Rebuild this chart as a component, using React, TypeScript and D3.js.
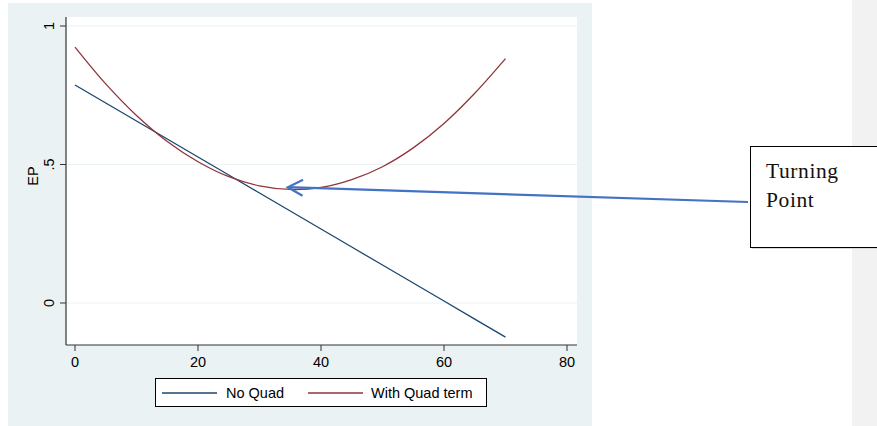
import React from "react";
import * as d3 from "d3";

const xValues = [0, 5, 10, 15, 20, 25, 30, 35, 40, 45, 50, 55, 60, 65, 70];
const noQuad = [0.787, 0.722, 0.657, 0.592, 0.527, 0.462, 0.397, 0.332, 0.267, 0.202, 0.137, 0.072, 0.007, -0.058, -0.123];
const withQuad = [0.924, 0.791, 0.677, 0.583, 0.51, 0.456, 0.423, 0.41, 0.417, 0.445, 0.492, 0.56, 0.648, 0.757, 0.882];
const xTicks = [0, 20, 40, 60, 80];
const yTicks = [0, 0.5, 1];
const yTickLabels = ["0", ".5", "1"];
const seriesNames = ["No Quad", "With Quad term"];
const turning = { x: 34.6, y: 0.418 };
const annotationLines = ["Turning", "Point"];

const NAVY = "#1A476F";
const MAROON = "#90353B";
const BG = "#EAF2F3";
const ARROW = "#4472C4";

export default function App() {
  const W = 877, H = 426;
  const plot = { left: 66, right: 577, top: 17, bottom: 345 };
  const x = d3.scaleLinear().domain([0, 80]).range([75, 567]);
  const y = d3.scaleLinear().domain([0, 1]).range([303, 26]);

  const line = d3.line<number>().x((_, i) => x(xValues[i])).y((d) => y(d));
  const curve = d3
    .line<number>()
    .x((_, i) => x(xValues[i]))
    .y((d) => y(d))
    .curve(d3.curveCatmullRom.alpha(0.5));

  const tipX = x(turning.x), tipY = y(turning.y);
  const startX = 748, startY = 202;
  const ang = Math.atan2(startY - tipY, startX - tipX);
  const barbLen = 17, barbAng = (28 * Math.PI) / 180;
  const b1 = [tipX + barbLen * Math.cos(ang - barbAng), tipY + barbLen * Math.sin(ang - barbAng)];
  const b2 = [tipX + barbLen * Math.cos(ang + barbAng), tipY + barbLen * Math.sin(ang + barbAng)];

  const sans = "'Liberation Sans', Arial, Helvetica, sans-serif";
  const fs = 14.5;

  return (
    <svg width={W} height={H} style={{ position: "absolute", left: 0, top: 0 }}>
      <rect x={0} y={0} width={W} height={H} fill="#ffffff" />
      <rect x={852} y={0} width={25} height={H} fill="#F2F2F2" />
      <rect x={8} y={3} width={584} height={423} fill={BG} />
      <rect x={plot.left} y={plot.top} width={plot.right - plot.left} height={plot.bottom - plot.top} fill="#ffffff" />
      {yTicks.map((t) => (
        <line key={"g" + t} x1={plot.left} x2={plot.right} y1={y(t)} y2={y(t)} stroke={BG} strokeWidth={1.2} />
      ))}
      <path d={line(noQuad) || ""} fill="none" stroke={NAVY} strokeWidth={1.3} />
      <path d={curve(withQuad) || ""} fill="none" stroke={MAROON} strokeWidth={1.3} />
      {/* axes */}
      <line x1={plot.left} x2={plot.left} y1={plot.top} y2={plot.bottom} stroke="#333" strokeWidth={1.2} />
      <line x1={plot.left} x2={plot.right} y1={plot.bottom} y2={plot.bottom} stroke="#333" strokeWidth={1.2} />
      {xTicks.map((t) => (
        <g key={"x" + t}>
          <line x1={x(t)} x2={x(t)} y1={plot.bottom} y2={plot.bottom + 6} stroke="#333" strokeWidth={1} />
          <text x={x(t)} y={367} textAnchor="middle" fontFamily={sans} fontSize={fs} fill="#000">
            {t}
          </text>
        </g>
      ))}
      {yTicks.map((t, i) => (
        <g key={"y" + t}>
          <line x1={plot.left - 6} x2={plot.left} y1={y(t)} y2={y(t)} stroke="#333" strokeWidth={1} />
          <text
            transform={`translate(53.5,${y(t)}) rotate(-90)`}
            textAnchor="middle"
            fontFamily={sans}
            fontSize={fs}
            fill="#000"
          >
            {yTickLabels[i]}
          </text>
        </g>
      ))}
      <text transform="translate(37.5,176) rotate(-90)" textAnchor="middle" fontFamily={sans} fontSize={fs} fill="#000">
        EP
      </text>
      {/* legend */}
      <rect x={155.5} y={378.5} width={331} height={28} fill="#ffffff" stroke="#000" strokeWidth={1} />
      <line x1={162} x2={217} y1={393} y2={393} stroke={NAVY} strokeWidth={1.3} />
      <text x={226} y={398} fontFamily={sans} fontSize={fs} fill="#000">
        {seriesNames[0]}
      </text>
      <line x1={308} x2={363} y1={393} y2={393} stroke={MAROON} strokeWidth={1.3} />
      <text x={371} y={398} fontFamily={sans} fontSize={fs} fill="#000">
        {seriesNames[1]}
      </text>
      {/* annotation */}
      <line x1={startX} y1={startY} x2={tipX} y2={tipY} stroke={ARROW} strokeWidth={2.2} />
      <polyline
        points={`${b1[0]},${b1[1]} ${tipX},${tipY} ${b2[0]},${b2[1]}`}
        fill="none"
        stroke={ARROW}
        strokeWidth={2.2}
      />
      <rect x={752} y={148} width={130} height={101} fill="#d9d9d9" />
      <rect x={750.5} y={146.5} width={130} height={101} fill="#ffffff" stroke="#000" strokeWidth={1} />
      {annotationLines.map((s, i) => (
        <text
          key={s}
          x={766}
          y={178 + i * 28.5}
          fontFamily="'Liberation Serif', 'DejaVu Serif', serif"
          fontSize={21.5}
          letterSpacing={0.6}
          fill="#111"
        >
          {s}
        </text>
      ))}
    </svg>
  );
}
